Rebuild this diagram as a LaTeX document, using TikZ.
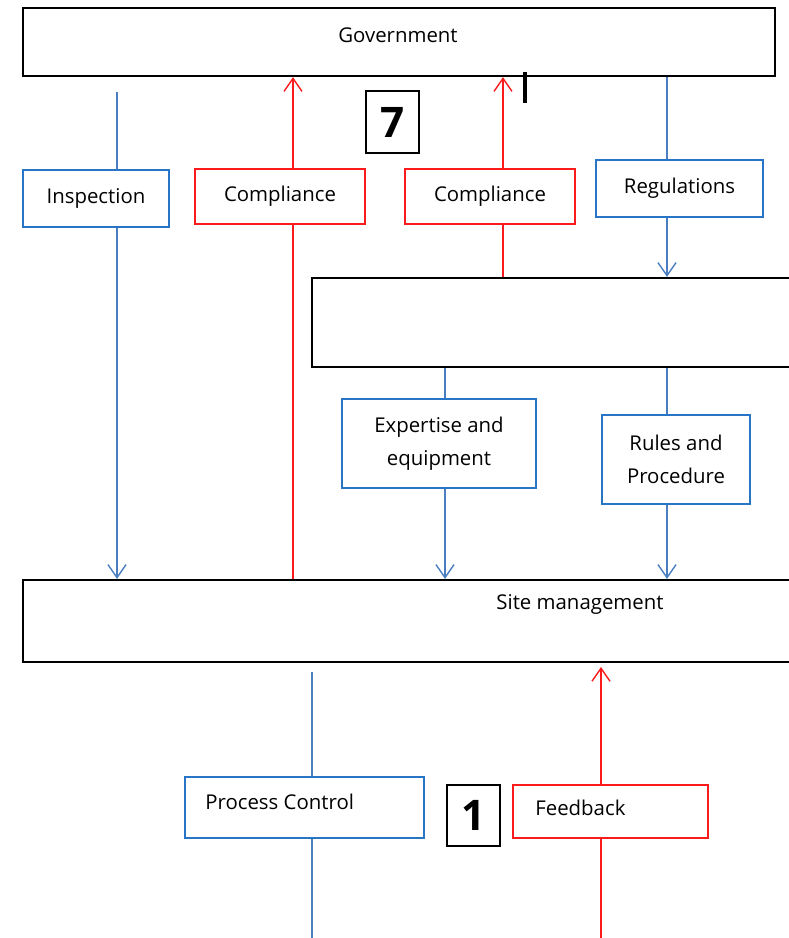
\documentclass[tikz,border=0pt]{standalone}
\usepackage{fontspec}
\setmainfont{Open Sans}
\usetikzlibrary{arrows.meta,backgrounds}
\definecolor{lineblue}{RGB}{74,126,193}
\definecolor{boxblue}{RGB}{40,117,200}
\definecolor{linered}{RGB}{250,28,28}
\tikzset{blk/.style = {shape=rectangle, draw=black, line width=1.3pt, fill=white, inner sep=0pt}}
\tikzset{bluebox/.style = {shape=rectangle, draw=boxblue, line width=1pt, fill=white, inner sep=0pt, align=center, font=\fontsize{11.6}{19}\selectfont}}
\tikzset{redbox/.style = {bluebox, draw=linered}}
\tikzset{num/.style = {blk, line width=1pt, font=\fontsize{24}{26}\selectfont\bfseries}}
\tikzset{txt/.style = {inner sep=0pt, font=\fontsize{11.6}{13}\selectfont}}
\tikzset{bl/.style = {draw=lineblue, line width=0.8pt}}
\tikzset{rl/.style = {draw=linered, line width=0.8pt}}
\tikzset{tip/.style = {-{Straight Barb[length=2.6mm,width=3.6mm]}}}

\begin{document}
\begin{tikzpicture}[x=0.02cm, y=-0.02cm]
		\useasboundingbox (0,0) rectangle (789,938);
		\clip (0,0) rectangle (789,938);
		% Nodes
		\node[blk, minimum width=15.04cm, minimum height=1.36cm] (gov) at (399,42) {};
		\node[blk, minimum width=11.76cm, minimum height=1.78cm] (mid) at (606,322.5) {};
		\node[blk, minimum width=17.54cm, minimum height=1.64cm] (site) at (461.5,621) {};
		\node[num, minimum width=1.06cm, minimum height=1.24cm] (seven) at (392.5,122) {7};
		\node[num, minimum width=1.06cm, minimum height=1.22cm] (one) at (473.5,815.5) {1};
		\node[bluebox, minimum width=2.92cm, minimum height=1.14cm] (insp) at (96,198.5) {Inspection};
		\node[redbox, minimum width=3.4cm, minimum height=1.1cm] (compa) at (280,196.5) {Compliance};
		\node[redbox, minimum width=3.4cm, minimum height=1.1cm] (compb) at (490,196.5) {Compliance};
		\node[bluebox, minimum width=3.34cm, minimum height=1.14cm] (regs) at (679.5,188.5) {Regulations};
		\node[bluebox, minimum width=3.88cm, minimum height=1.78cm] (expert) at (439,443.5) {Expertise and\\equipment};
		\node[bluebox, minimum width=2.96cm, minimum height=1.78cm] (rules) at (676,459.5) {Rules and\\Procedure};
		\node[bluebox, minimum width=4.78cm, minimum height=1.22cm] (proc) at (304.5,807.5) {};
		\node[redbox, minimum width=3.9cm, minimum height=1.06cm] (feed) at (610.5,811.5) {};
		% Texts
		\node[txt] (govtxt) at (398,35) {Government};
		\node[txt] (sitetxt) at (580,604) {Site management};
		\node[txt, anchor=west] (proctxt) at (205,802) {Process Control};
		\node[txt, anchor=west] (feedtxt) at (535,808) {Feedback};
		% Line ends
		\coordinate (itop) at (117,92);
		\coordinate (xa) at (293,0);
		\coordinate (xb) at (503,0);
		\coordinate (xe) at (445,0);
		\coordinate (xr) at (667,0);
		\coordinate (ptop) at (312,672);
		\coordinate (pbot) at (312,950);
		\coordinate (ftop) at (601,667);
		\coordinate (fbot) at (601,950);
		\coordinate (cura) at (525,72);
		\coordinate (curb) at (525,103);
		% Arrows
		\begin{scope}[on background layer]
		\foreach \from/\to in {itop/itop |- site.north, gov.south -| xr/mid.north -| xr, mid.south -| xe/site.north -| xe, mid.south -| xr/site.north -| xr}
			\draw [bl, tip] (\from) -- (\to);
		\foreach \from/\to in {site.north -| xa/gov.south -| xa, mid.north -| xb/gov.south -| xb, fbot/ftop}
			\draw [rl, tip] (\from) -- (\to);
		\draw [bl] (ptop) -- (pbot);
		\end{scope}
		\draw [line width=2pt] (cura) -- (curb);
\end{tikzpicture}
\end{document}
